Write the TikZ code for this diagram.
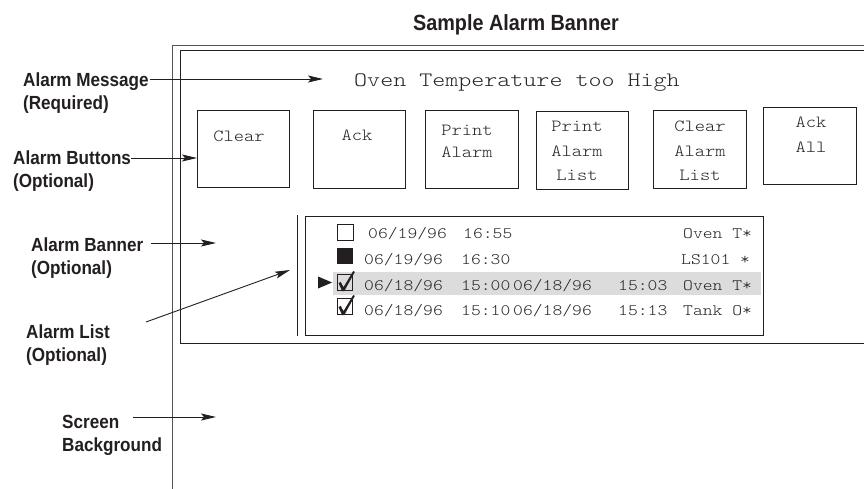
\documentclass[tikz,border=0pt]{standalone}
\usepackage{fontspec}
\setmainfont{Liberation Sans}
\newfontfamily\labfont[FakeStretch=0.9]{Liberation Sans Bold}
\newfontfamily\rowfont[FakeStretch=1.17]{Latin Modern Mono Light}
\newfontfamily\btnfont[FakeStretch=1.15]{Latin Modern Mono Light}
\newfontfamily\msgfont[FakeStretch=1.21]{Latin Modern Mono Light}
\usetikzlibrary{arrows.meta}
\definecolor{ink}{HTML}{231F20}
\definecolor{hl}{HTML}{DCDCDC}
\definecolor{framegray}{HTML}{555555}
\begin{document}
\begin{tikzpicture}[x=1pt,y=-1pt,
  lab/.style={font=\labfont\fontsize{19}{23}\selectfont, text=ink, align=left, anchor=base west, inner sep=0pt},
  ptr/.style={draw=ink, line width=0.9pt, -{Stealth[length=15pt,width=7pt,inset=3pt]}},
  btnbox/.style={draw=ink, line width=0.9pt, inner sep=0pt},
  btntxt/.style={font=\btnfont\fontsize{17}{24.5}\selectfont, text=black!85, align=center, anchor=base, inner sep=0pt},
  rowtxt/.style={font=\rowfont\fontsize{16}{20}\selectfont, text=black!85, anchor=base west, inner sep=0pt},
  boxline/.style={draw=ink, line width=0.8pt},
]
\useasboundingbox (0,0) rectangle (864,489);
\fill[white] (0,0) rectangle (864,489);

% screen and banner frames
\draw[framegray, line width=1pt] (172,489) -- (172,46) -- (864,46);
\draw[ink, line width=1pt] (864,51) -- (180,51) -- (180,343) -- (864,343);

% title
\node[font=\labfont\fontsize{22}{26}\selectfont, text=ink, anchor=base, inner sep=0pt] (title) at (516,31) {Sample Alarm Banner};

% message
\node[font=\msgfont\fontsize{20.5}{26}\selectfont, text=black!85, anchor=base west, inner sep=0pt] (msg) at (354,87) {Oven Temperature too High};

% buttons
\node[btnbox, minimum width=92pt, minimum height=77pt] (bclear) at (243,148.5) {};
\node[btnbox, minimum width=92pt, minimum height=78pt] (back) at (359,149) {};
\node[btnbox, minimum width=93pt, minimum height=78pt] (bpa) at (471.5,149) {};
\node[btnbox, minimum width=92pt, minimum height=78pt] (bpal) at (582,150) {};
\node[btnbox, minimum width=93pt, minimum height=78pt] (bcal) at (699.5,149) {};
\node[btnbox, minimum width=93pt, minimum height=77pt] (baa) at (809.5,145.5) {};

% (multi-line nodes: base anchor = baseline of the last line)
\node[btntxt] (tclear) at (239,142) {Clear};
\node[btntxt] (tack) at (357,141) {Ack};
\node[btntxt, font=\btnfont\fontsize{17}{22}\selectfont] (tpa) at (467,158) {Print\\Alarm};
\node[btntxt] (tpal) at (577,181) {Print\\Alarm\\List};
\node[btntxt] (tcal) at (700,181) {Clear\\Alarm\\List};
\node[btntxt] (taa) at (811,152.5) {Ack\\All};

% alarm list
\draw[ink, line width=1pt] (297,215) -- (297,336);
\draw[ink, line width=1pt] (305,216) rectangle (763,335);
\fill[hl] (333,272) rectangle (761,295);

% row markers
\draw[boxline] (337,224) rectangle (353,240);
\fill[ink] (337,248) rectangle (353,264);
\draw[boxline] (337,274) rectangle (352,290);
\fill[ink] (338.5,283) -- (340.8,282) -- (343.5,287.2) -- (353.2,271) -- (354.8,272) -- (344.2,291.2) -- (342.2,291.2) -- cycle;
\draw[boxline] (337,298) rectangle (352,314);
\fill[ink] (338.5,307) -- (340.8,306) -- (343.5,311.2) -- (353.2,295) -- (354.8,296) -- (344.2,315.2) -- (342.2,315.2) -- cycle;
\fill[ink] (318,276.5) -- (332,282.5) -- (318,288.5) -- cycle;

% row texts
\node[rowtxt] (r1a) at (368,238) {06/19/96};
\node[rowtxt] (r1b) at (463,238) {16:55};
\node[rowtxt] (r1e) at (683,238) {Oven T*};
\node[rowtxt] (r2a) at (364,264) {06/19/96};
\node[rowtxt] (r2b) at (461,264) {16:30};
\node[rowtxt] (r2e) at (681,264) {LS101 *};
\node[rowtxt] (r3a) at (364,290) {06/18/96};
\node[rowtxt] (r3b) at (461,290) {15:00};
\node[rowtxt] (r3c) at (513,290) {06/18/96};
\node[rowtxt] (r3d) at (618,290) {15:03};
\node[rowtxt] (r3e) at (683,290) {Oven T*};
\node[rowtxt] (r4a) at (364,315) {06/18/96};
\node[rowtxt] (r4b) at (461,315) {15:10};
\node[rowtxt] (r4c) at (513,315) {06/18/96};
\node[rowtxt] (r4d) at (618,315) {15:13};
\node[rowtxt] (r4e) at (683,315) {Tank O*};

% left labels
\node[lab] (lmsg) at (23,110) {Alarm Message\\(Required)};
\node[lab] (lbtn) at (13,188) {Alarm Buttons\\(Optional)};
\node[lab] (lban) at (31,274) {Alarm Banner\\(Optional)};
\node[lab] (llst) at (26,361) {Alarm List\\(Optional)};
\node[lab] (lscr) at (62,451) {Screen\\Background};

% pointers
\coordinate (msgS) at (150,79);
\coordinate (msgE) at (323,79);
\coordinate (btnS) at (131,158);
\coordinate (btnE) at (197,158);
\coordinate (banS) at (151,243);
\coordinate (banE) at (216,243);
\coordinate (lstS) at (146,322);
\coordinate (lstE) at (290,270);
\coordinate (scrS) at (133,417);
\coordinate (scrE) at (216,417);
\draw[ptr] (msgS) -- (msgE);
\draw[ptr] (btnS) -- (btnE);
\draw[ptr] (banS) -- (banE);
\draw[ptr] (lstS) -- (lstE);
\draw[ptr] (scrS) -- (scrE);
\end{tikzpicture}
\end{document}
